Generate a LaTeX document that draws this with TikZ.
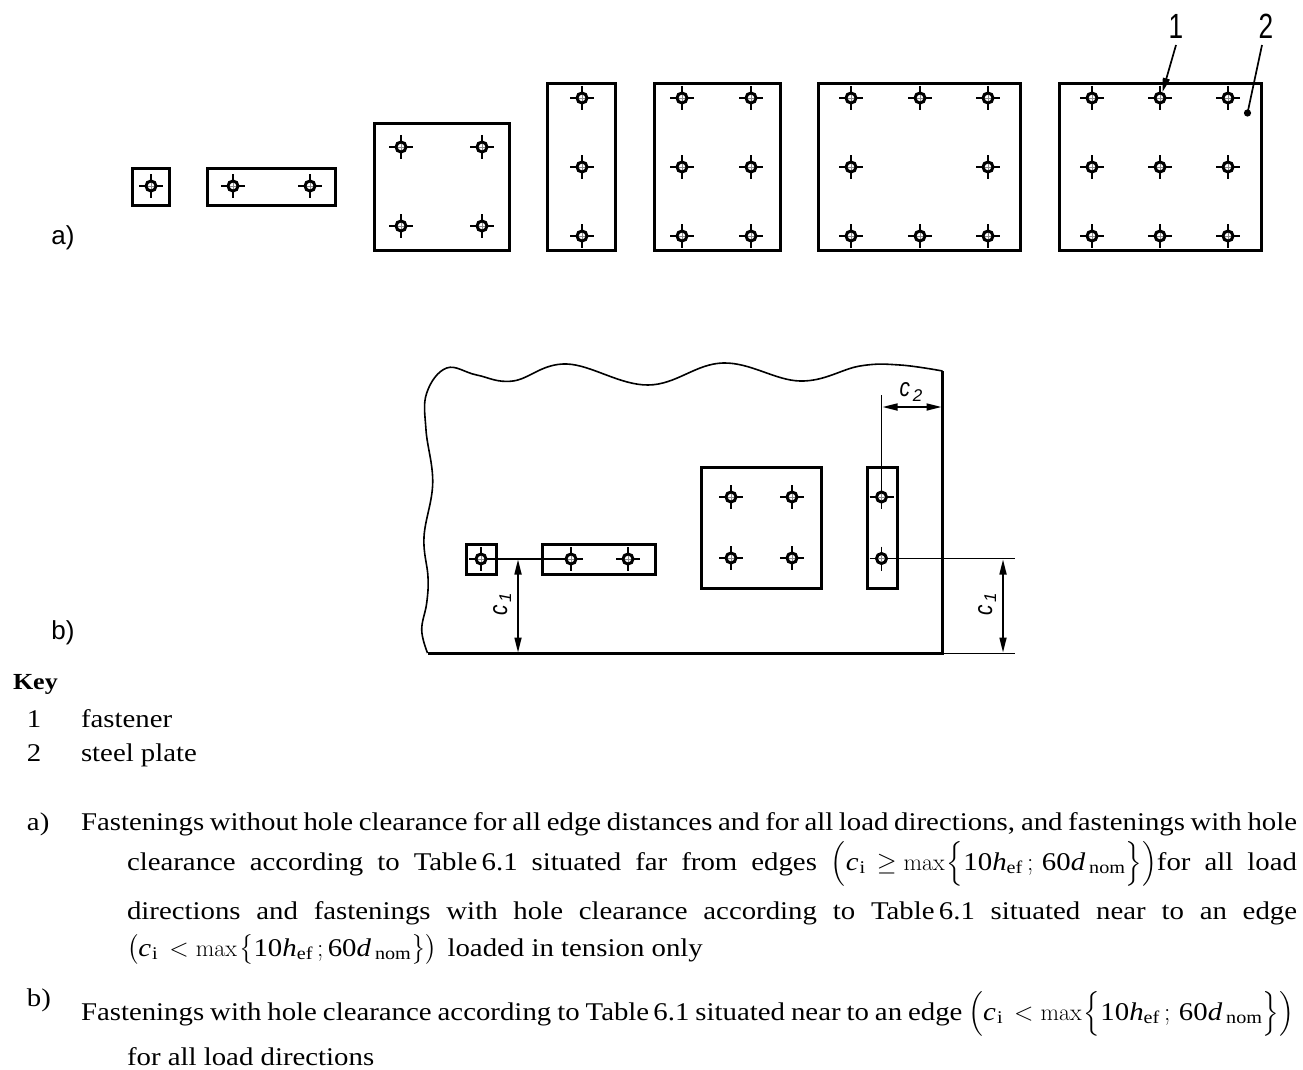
\documentclass[tikz,border=0pt]{standalone}
\usepackage{fix-cm}
\usepackage{amsmath}
\usepackage{fontspec}
\setmainfont[FakeStretch=1.13]{Liberation Serif}
\newfontfamily\figfont{Liberation Sans}
\newfontfamily\lmfont{Latin Modern Roman}
\usetikzlibrary{arrows.meta}
\hbadness=10000 \hfuzz=50pt
\newcommand{\fst}[2]{%
  \draw[thinl] (#1-12,#2) -- (#1+12,#2) (#1,#2-12) -- (#1,#2+12);
  \draw[line width=3pt,fill=white] (#1,#2) circle (5pt);
  \draw[line width=.7pt,black!45] (#1-3.4,#2) -- (#1+3.4,#2) (#1,#2-3.4) -- (#1,#2+3.4);
}
\newcommand{\mv}[1]{\text{\itshape #1}}
\newcommand{\mr}[1]{\text{\upshape #1}}
\newcommand{\cval}{\mv{c}_{\kern1pt\mr{i}}}
\newcommand{\hval}{\mr{10}\mv{h}_{\mr{ef}}}
\newcommand{\dval}{\mr{60}\mv{d}_{\kern4pt\mr{nom}}}
\newcommand{\mxop}{\text{\lmfont\fontsize{24}{24}\selectfont max}\kern2pt}
\newcommand{\bodyline}[4]{\node[bodytext] (#1) at (#2) {\thickmuskip=5mu\relax\hbox to #3pt{#4}};}
\newcommand{\cone}{\scalebox{.8}[1]{c}\raisebox{-4pt}{\fontsize{17}{17}\selectfont\,1}}
\tikzset{
  x=1pt,y=-1pt,
  thinl/.style={line width=1.7pt},
  thickl/.style={line width=3pt},
  plate/.style={thickl,draw=black},
  dimtip/.style={{Triangle[length=15pt,width=7pt]}-{Triangle[length=15pt,width=7pt]}},
  bodytext/.style={anchor=base west,inner sep=0pt,outer sep=0pt,font=\fontsize{25.5}{28}\selectfont},
  figlabel/.style={inner sep=0pt,font=\figfont\fontsize{26}{28}\selectfont},
  isolabel/.style={inner sep=0pt,font=\figfont\fontsize{35}{37}\selectfont},
  cmark/.style={inner sep=0pt,font=\figfont\itshape\fontsize{26}{28}\selectfont},
}
\begin{document}
\begin{tikzpicture}
\useasboundingbox (0,0) rectangle (1303,1070);
% --- part a
\draw[plate] (132,168.5) rectangle (169.5,205.5);
\fst{151}{186}
\draw[plate] (207,168.5) rectangle (335.5,205.5);
\foreach \px in {233,310} {\fst{\px}{186}}
\draw[plate] (374,123.5) rectangle (509.5,250.5);
\foreach \px in {401,482} {\foreach \py in {147,226} {\fst{\px}{\py}}}
\draw[plate] (547,83.5) rectangle (615.5,250.5);
\foreach \py in {98,167,236} {\fst{582}{\py}}
\draw[plate] (654,83.5) rectangle (780.5,250.5);
\foreach \px in {682,751} {\foreach \py in {98,167,236} {\fst{\px}{\py}}}
\draw[plate] (818,83.5) rectangle (1020.5,250.5);
\foreach \px in {851,920,988} {\foreach \py in {98,236} {\fst{\px}{\py}}}
\foreach \px in {851,988} {\fst{\px}{167}}
\draw[plate] (1059,83.5) rectangle (1261.5,250.5);
\foreach \px in {1092,1160,1228} {\foreach \py in {98,167,236} {\fst{\px}{\py}}}
\node[isolabel] (n1) at (1176,26) {\scalebox{.75}[1]{1}};
\node[isolabel] (n2) at (1266,26) {\scalebox{.75}[1]{2}};
\coordinate (f1) at (1162.5,92);
\coordinate (d2) at (1247.5,113);
\draw[thinl,-{Triangle[length=14pt,width=7pt]}] (1176,45) -- (f1);
\draw[thinl] (1262,45) -- (d2);
\fill (d2) circle (3.6pt);
\node[figlabel] (la) at (63,238) {a)};
\node[figlabel] (lb) at (63,633) {b)};
% --- part b outline
\draw[line width=1.6pt]
  plot[smooth,tension=.65] coordinates {(427.5,653) (421.7,630) (426.7,603) (428,577) (424,537) (432.7,483) (426,430) (426.7,393) (446.7,368) (476.7,375) (513,381) (566.7,364) (648,385) (723,363) (800,381) (860,366) (900,365) (942.5,371)};
\draw[line width=3pt] (942.5,371) -- (942.5,653.5) -- (428,653.5);
\draw[thinl] (943,653.5) -- (1015,653.5);
% dimension lines
\coordinate (f1a) at (481,559);
\coordinate (f2b) at (571,559);
\coordinate (f4a) at (881.5,497);
\coordinate (f4b) at (881.5,558.5);
\draw[thinl] (f1a) -- (f2b);
\draw[thinl] (f4b) -- (1015,558.5);
\draw[thinl] (f4a) -- (881.5,395);
\draw[thickl] (466.5,544) rectangle (496.5,574.5);
\fst{481}{559}
\draw[thickl] (542,544) rectangle (655.5,574.5);
\fst{571}{559} \fst{628}{559}
\draw[thickl] (701,467.5) rectangle (821.5,588.5);
\foreach \px in {731,792} {\foreach \py in {497,558} {\fst{\px}{\py}}}
\draw[thickl] (867,467.5) rectangle (897.5,588.5);
\draw[thinl] (881.5,467) -- (f4a);
\fst{881.5}{497} \fst{881.5}{558.5}
\draw[thinl,dimtip] (518,559.5) -- (518,652.5);
\draw[thinl,dimtip] (1003,559.5) -- (1003,652.5);
\draw[thinl,dimtip] (882.5,407) -- (941.5,407);
\node[cmark,rotate=90] (c1a) at (502,604) {\cone};
\node[cmark,rotate=90] (c1b) at (987,604) {\cone};
\node[cmark] (c2) at (911,392) {\scalebox{.8}[1]{c}\raisebox{-5pt}{\fontsize{17}{17}\selectfont\,2}};
% --- key
\node[bodytext,font=\fontsize{23}{26}\selectfont\bfseries] (key) at (13,689) {Key};
\node[bodytext] (k1) at (27,727) {1};
\node[bodytext] (t1) at (81,727) {fastener};
\node[bodytext] (k2) at (27,761) {2};
\node[bodytext] (t2) at (81,761) {steel plate};
% --- notes
\node[bodytext] (aa) at (27,830) {a)};
\bodyline{l1}{81,830}{1216}{Fastenings without hole clearance for all edge distances and for all load directions, and fastenings with hole}
\bodyline{l2}{127,870}{1170}{clearance according to Table\,6.1 situated far from edges $\Bigl(\cval\kern4pt\ge \mxop\Bigl\{\hval\,;\,\dval\Bigr\}\Bigr)$for all load}
\bodyline{l3}{127,919}{1170}{directions and fastenings with hole clearance according to Table\,6.1 situated near to an edge}
\bodyline{l4}{127,956}{600}{$\bigl(\cval\kern4pt<\mxop\bigl\{\hval\,;\dval\bigr\}\bigr)$\kern3pt{} loaded in tension only\hfill}
\node[bodytext] (bb) at (27,1006) {b)};
\bodyline{l5}{81,1020}{1213}{Fastenings with hole clearance according to Table\,6.1 situated near to an edge $\Bigl(\cval\kern4pt<\mxop\Bigl\{\hval\,;\,\dval\Bigr\}\Bigr)$}
\node[bodytext] (l6) at (127,1065) {for all load directions};
\end{tikzpicture}
\end{document}
